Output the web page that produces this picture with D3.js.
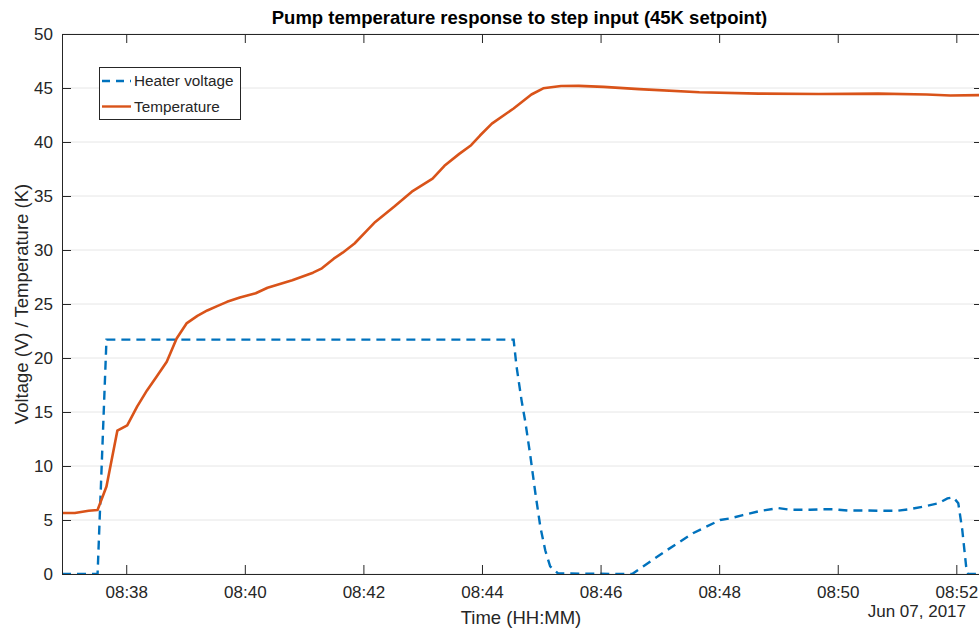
<!DOCTYPE html>
<html lang="en">
<head>
<meta charset="UTF-8">
<title>Pump temperature response to step input</title>
<script src="https://d3js.org/d3.v7.min.js"></script>
<style>
  body { margin: 0; background: #fff; }
  svg text { font-family: "Liberation Sans", Arial, Helvetica, sans-serif; fill: #262626; }
</style>
</head>
<body>
<svg id="chart" width="979" height="630"></svg>
<script>
// heater voltage samples (time, volts)
const voltageTimes = ["08:36:55", "08:37:31", "08:37:40", "08:44:32", "08:44:35", "08:44:40", "08:44:44",
  "08:44:49", "08:44:54", "08:44:59", "08:45:04", "08:45:09", "08:45:17", "08:46:32", "08:46:43",
  "08:47:07", "08:47:34", "08:48:01", "08:48:11", "08:48:24", "08:48:42", "08:49:00", "08:49:12",
  "08:49:32", "08:49:45", "08:49:55", "08:50:10", "08:50:30", "08:50:43", "08:51:00", "08:51:13",
  "08:51:27", "08:51:42", "08:51:51", "08:51:57", "08:52:02", "08:52:06", "08:52:10", "08:52:12", "08:52:27"];
const voltage = [0, 0, 21.7, 21.7, 19.2, 16.1, 14.0,
  10.9, 7.5, 4.4, 2.2, 0.7, 0.05, 0, 0.7,
  2.2, 3.8, 5.0, 5.15, 5.45, 5.85, 6.1, 5.95,
  5.95, 6.0, 6.0, 5.88, 5.88, 5.85, 5.85, 6.0,
  6.25, 6.55, 7.0, 7.1, 6.55, 4.1, 0.65, 0, 0];

// temperature samples (time, kelvin)
const tempTimes = ["08:36:55", "08:37:08", "08:37:22", "08:37:31", "08:37:40", "08:37:51", "08:38:01",
  "08:38:11", "08:38:21", "08:38:31", "08:38:41", "08:38:51", "08:39:01", "08:39:12", "08:39:22",
  "08:39:32", "08:39:42", "08:39:55", "08:40:11", "08:40:23", "08:40:48", "08:41:09", "08:41:18",
  "08:41:30", "08:41:39", "08:41:51", "08:42:03", "08:42:12", "08:42:31", "08:42:49", "08:43:10",
  "08:43:22", "08:43:37", "08:43:49", "08:43:58", "08:44:10", "08:44:32", "08:44:50", "08:45:02",
  "08:45:20", "08:45:38", "08:46:03", "08:46:39", "08:47:40", "08:48:40", "08:49:41", "08:50:41",
  "08:51:30", "08:51:54", "08:52:27"];
const temperature = [5.65, 5.65, 5.85, 5.93, 8.1, 13.27, 13.77,
  15.5, 17.0, 18.3, 19.66, 21.8, 23.2, 23.9, 24.4,
  24.8, 25.2, 25.6, 26.0, 26.5, 27.2, 27.9, 28.3,
  29.2, 29.75, 30.6, 31.75, 32.6, 34.0, 35.4, 36.6,
  37.8, 38.9, 39.7, 40.6, 41.7, 43.1, 44.4, 44.97,
  45.19, 45.2, 45.1, 44.9, 44.6, 44.48, 44.44, 44.48,
  44.4, 44.3, 44.35];

const yTicks = [0, 5, 10, 15, 20, 25, 30, 35, 40, 45, 50];
const xTickTimes = ["08:38:00", "08:40:00", "08:42:00", "08:44:00", "08:46:00", "08:48:00", "08:50:00", "08:52:00"];
const xDomain = ["08:36:55", "08:52:27"];

const parseTime = d3.timeParse("%H:%M:%S");
const plotLeft = 62, plotRight = 983, plotTop = 34, plotBottom = 574;
const tickLen = 9;
const axisColor = "#262626";

const svg = d3.select("#chart");

const x = d3.scaleTime()
  .domain(xDomain.map(parseTime))
  .range([plotLeft, plotRight]);
const y = d3.scaleLinear()
  .domain([0, 50])
  .range([plotBottom, plotTop]);

// horizontal grid
svg.append("g")
  .selectAll("line")
  .data(yTicks)
  .enter().append("line")
  .attr("x1", plotLeft).attr("x2", plotRight)
  .attr("y1", d => y(d)).attr("y2", d => y(d))
  .attr("stroke", "#e6e6e6")
  .attr("stroke-width", 1);

// clip for data
svg.append("clipPath").attr("id", "plot-clip")
  .append("rect")
  .attr("x", plotLeft).attr("y", plotTop)
  .attr("width", plotRight - plotLeft).attr("height", plotBottom - plotTop);

const voltageData = voltageTimes.map((t, i) => ({ t: parseTime(t), v: voltage[i] }));
const tempData = tempTimes.map((t, i) => ({ t: parseTime(t), v: temperature[i] }));

const line = d3.line().x(d => x(d.t)).y(d => y(d.v));

const plot = svg.append("g").attr("clip-path", "url(#plot-clip)");

plot.append("path")
  .datum(voltageData)
  .attr("d", line)
  .attr("fill", "none")
  .attr("stroke", "#0072BD")
  .attr("stroke-width", 2.4)
  .attr("stroke-dasharray", "9,6");

plot.append("path")
  .datum(tempData)
  .attr("d", line)
  .attr("fill", "none")
  .attr("stroke", "#D95319")
  .attr("stroke-width", 2.6)
  .attr("stroke-linejoin", "round");

// axes (ticks pointing inward on all four sides)
const xTickVals = xTickTimes.map(parseTime);
const styleAxis = g => {
  g.select(".domain").attr("stroke", axisColor);
  g.selectAll(".tick line").attr("stroke", axisColor);
  g.selectAll(".tick text").attr("fill", axisColor);
};

svg.append("g")
  .attr("transform", `translate(0,${plotBottom})`)
  .call(d3.axisBottom(x).tickValues(xTickVals).tickFormat(d3.timeFormat("%H:%M"))
    .tickSizeInner(-tickLen).tickSizeOuter(0).tickPadding(12))
  .call(styleAxis)
  .selectAll("text").style("font-size", "17px");

svg.append("g")
  .attr("transform", `translate(0,${plotTop})`)
  .call(d3.axisTop(x).tickValues(xTickVals).tickFormat("")
    .tickSizeInner(-tickLen).tickSizeOuter(0))
  .call(styleAxis);

svg.append("g")
  .attr("transform", `translate(${plotLeft},0)`)
  .call(d3.axisLeft(y).tickValues(yTicks).tickSizeInner(-tickLen).tickSizeOuter(0).tickPadding(9))
  .call(styleAxis)
  .selectAll("text").style("font-size", "17px");

svg.append("g")
  .attr("transform", `translate(${plotRight},0)`)
  .call(d3.axisRight(y).tickValues(yTicks).tickFormat("").tickSizeInner(-tickLen).tickSizeOuter(0))
  .call(styleAxis);

// title and labels
svg.append("text")
  .attr("x", (plotLeft + plotRight) / 2 - 3)
  .attr("y", 24)
  .attr("text-anchor", "middle")
  .style("font-size", "18.5px")
  .style("font-weight", "bold")
  .style("fill", "#000")
  .text("Pump temperature response to step input (45K setpoint)");

svg.append("text")
  .attr("x", 521)
  .attr("y", 624)
  .attr("text-anchor", "middle")
  .style("font-size", "18.5px")
  .text("Time (HH:MM)");

svg.append("text")
  .attr("x", 966)
  .attr("y", 617)
  .attr("text-anchor", "end")
  .style("font-size", "17px")
  .text("Jun 07, 2017");

svg.append("text")
  .attr("transform", `translate(28,${(plotTop + plotBottom) / 2}) rotate(-90)`)
  .attr("text-anchor", "middle")
  .style("font-size", "18.5px")
  .text("Voltage (V) / Temperature (K)");

// legend
const legendItems = [
  { name: "Heater voltage", color: "#0072BD", dash: "8,6" },
  { name: "Temperature", color: "#D95319", dash: null }
];
const legend = svg.append("g");
legend.append("rect")
  .attr("x", 99.5).attr("y", 67.5)
  .attr("width", 141).attr("height", 52)
  .attr("fill", "#fff")
  .attr("stroke", axisColor)
  .attr("stroke-width", 1);

const rows = legend.selectAll(".row")
  .data(legendItems)
  .enter().append("g")
  .attr("class", "row")
  .attr("transform", (d, i) => `translate(0,${81 + i * 25.5})`);

rows.append("line")
  .attr("x1", 102).attr("x2", 131)
  .attr("stroke", d => d.color)
  .attr("stroke-width", 2.4)
  .attr("stroke-dasharray", d => d.dash);

rows.append("text")
  .attr("x", 134)
  .attr("dy", "0.35em")
  .style("font-size", "15.3px")
  .text(d => d.name);
</script>
</body>
</html>
